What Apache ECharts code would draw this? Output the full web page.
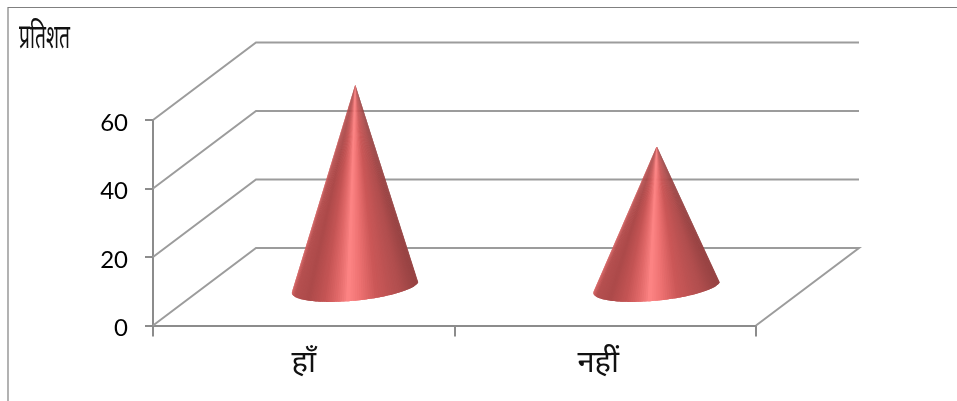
<!DOCTYPE html>
<html>
<head>
<meta charset="utf-8">
<style>html,body{margin:0;padding:0;background:#fff}#chart{width:957px;height:401px}</style>
<script src="https://cdn.jsdelivr.net/npm/echarts@6/dist/echarts.min.js"></script>
</head>
<body>
<div id="chart"></div>
<script>
const categories = ['हाँ', 'नहीं'];
const percentValues = [59, 41];
const yTicks = [0, 20, 40, 60];
const yAxisTitle = 'प्रतिशत';
const categoryLabelInset = [0, 14];

// Oblique projection of the floor: how far the back wall sits from the front plane.
const DEPTH_X = 103;
const DEPTH_Y = -77.5;
const AXIS_COLOR = '#8c8c8c';
const WALL_COLOR = '#9c9c9c';
const FONT = '"Noto Sans", "Open Sans", sans-serif';

// Shading around the visible half of the cone, from its left rim to its right rim.
const shadeStops = [
  [0.00, [214, 98, 98]], [0.04, [182, 80, 80]], [0.16, [172, 74, 74]],
  [0.30, [196, 84, 84]], [0.40, [224, 104, 104]], [0.50, [255, 134, 134]],
  [0.60, [238, 114, 114]], [0.72, [204, 88, 88]], [0.90, [176, 78, 78]],
  [1.00, [150, 66, 66]]
];

function shadeAt(u) {
  for (let i = 1; i < shadeStops.length; i++) {
    const [u1, c1] = shadeStops[i];
    if (u <= u1) {
      const [u0, c0] = shadeStops[i - 1];
      const k = (u - u0) / (u1 - u0);
      return 'rgb(' + c0.map((c, j) => Math.round(c + (c1[j] - c) * k)).join(',') + ')';
    }
  }
  return 'rgb(150,66,66)';
}

function renderWall(params, api) {
  const v = api.value(1);
  const band = api.size([1, 0])[0];
  const left = api.coord([0, v]);
  const right = api.coord([categories.length - 1, v]);
  const x0 = left[0] - band / 2;
  const x1 = right[0] + band / 2;
  const y = left[1];
  const points = [[x0, y], [x0 + DEPTH_X, y + DEPTH_Y], [x1 + DEPTH_X, y + DEPTH_Y]];
  if (v === 0) points.push([x1, y]);
  return {
    type: 'polyline',
    shape: { points },
    style: { stroke: WALL_COLOR, lineWidth: 2, fill: null }
  };
}

function renderCone(params, api) {
  const idx = api.value(0);
  const band = api.size([1, 0])[0];
  const base = api.coord([idx, 0]);
  const tip = api.coord([idx, api.value(1)]);
  const ox = DEPTH_X / 2, oy = DEPTH_Y / 2;
  const cx = base[0] + ox, cy = base[1] + oy;
  const apex = [tip[0] + ox, tip[1] + oy];
  // Tilted base ellipse, sized from the category band.
  const ax = band * 0.209, ay = -band * 0.015;
  const bx = -band * 0.023, by = band * 0.048;
  const steps = 90;
  const rim = (i) => {
    const t = Math.PI - Math.PI * i / steps;
    return [cx + ax * Math.cos(t) + bx * Math.sin(t), cy + ay * Math.cos(t) + by * Math.sin(t)];
  };
  const shadeOf = (i) => shadeAt((1 + Math.cos(Math.PI - Math.PI * i / steps)) / 2);
  const children = [];
  const slice = (a, b, c) => {
    const color = shadeOf(a);
    children.push({
      type: 'polygon',
      shape: { points: [apex, rim(a), rim(b), rim(c)] },
      style: { fill: color }
    });
  };
  // Painted from both rims inwards so each slice overlaps the next and the highlight lands last.
  const mid = Math.round(steps * 0.5);
  for (let i = 0; i < mid; i++) {
    slice(i, i + 1, Math.min(i + 2, steps));
  }
  for (let i = steps - 1; i >= mid; i--) {
    slice(i + 1, i, Math.max(i - 1, 0));
  }
  return { type: 'group', children };
}

const chart = echarts.init(document.getElementById('chart'), null, { renderer: 'canvas' });
chart.setOption({
  animation: false,
  backgroundColor: '#ffffff',
  grid: { left: 153, right: 201, top: 120, bottom: 75.5, containLabel: false },
  graphic: [
    {
      type: 'polyline', silent: true,
      shape: { points: [[8, 401], [8, 7.5], [957, 7.5]] },
      style: { stroke: '#808080', lineWidth: 1.2, fill: null }
    },
    {
      type: 'text', silent: true, x: 19, y: 21, scaleX: 0.74, scaleY: 1.32,
      style: { text: yAxisTitle, font: '26px ' + FONT, fill: '#111111' }
    }
  ],
  xAxis: {
    type: 'category',
    data: categories.map((c, i) => ({ value: c, textStyle: { padding: [0, categoryLabelInset[i], 0, 0] } })),
    axisLine: { lineStyle: { color: AXIS_COLOR, width: 2 } },
    axisTick: { show: true, length: 11, lineStyle: { color: AXIS_COLOR, width: 2 } },
    axisLabel: { fontFamily: FONT, fontSize: 31, color: '#111111', margin: 22 }
  },
  yAxis: {
    type: 'value', min: 0, max: 60, interval: 20,
    axisLine: { show: true, lineStyle: { color: AXIS_COLOR, width: 2 } },
    axisTick: { show: true, length: 8, lineStyle: { color: AXIS_COLOR, width: 2 } },
    axisLabel: { fontFamily: 'Lato, sans-serif', fontSize: 24, color: '#000000', margin: 25, verticalAlign: 'top', lineHeight: 2, padding: [2, 0, 0, 0] },
    splitLine: { show: false }
  },
  series: [
    {
      type: 'custom', silent: true, z: 1, clip: false,
      renderItem: renderWall,
      encode: { x: 0, y: 1 },
      data: yTicks.map(v => [0, v])
    },
    {
      type: 'custom', silent: true, z: 3, clip: false,
      renderItem: renderCone,
      encode: { x: 0, y: 1 },
      data: percentValues.map((v, i) => [i, v])
    }
  ]
});
</script>
</body>
</html>
